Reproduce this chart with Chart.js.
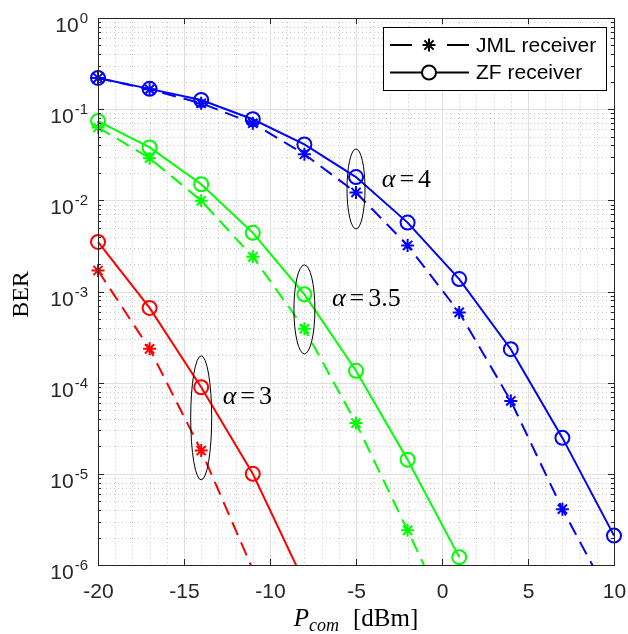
<!DOCTYPE html>
<html><head><meta charset="utf-8">
<style>html,body{margin:0;padding:0;background:#fff;}#wrap{width:628px;height:634px;}</style>
<script src="https://cdn.jsdelivr.net/npm/chart.js@4/dist/chart.umd.min.js"></script>
</head><body><div id="wrap"><canvas id="c" width="628" height="634"></canvas></div>
<script>
// ---- data ----
const xTicks = [-20, -15, -10, -5, 0, 5, 10];
const yTickExponents = [0, -1, -2, -3, -4, -5, -6];
const powerAll = [-20, -17, -14, -11, -8, -5, -2, 1, 4, 7, 10];
const zfAlpha4  = [0.22, 0.167, 0.126, 0.0775, 0.041, 0.018, 0.0057, 0.00137, 2.33e-4, 2.48e-5, 2.1e-6];
const jmlAlpha4 = [0.22, 0.165, 0.116, 0.070, 0.032, 0.0122, 0.0032, 5.9e-4, 6.3e-5, 4.1e-6, 3.6e-7];
const powerAlpha35 = [-20, -17, -14, -11, -8, -5, -2, 1];
const zfAlpha35  = [0.074, 0.038, 0.015, 0.0044, 9.3e-4, 1.35e-4, 1.43e-5, 1.22e-6];
const jmlAlpha35 = [0.063, 0.029, 0.0099, 0.0024, 3.9e-4, 3.6e-5, 2.4e-6, 1.5e-7];
const powerAlpha3Zf = [-20, -17, -14, -11, -8];
const zfAlpha3 = [0.0035, 6.6e-4, 8.9e-5, 1.0e-5, 6.4e-7];
const powerAlpha3Jml = [-20, -17, -14, -11];
const jmlAlpha3 = [0.0017, 2.35e-4, 1.8e-5, 8.9e-7];
const legendLabels = ['JML receiver', 'ZF receiver'];
const alphaValues = ['4', '3.5', '3'];
const ellipseX = [-5, -8, -14];
const ellipseY = [0.01334, 6.37e-4, 4.11e-5];
const alphaTextX = [-3.5, -6.4, -12.75];
const alphaTextY = [0.0167, 8.3e-4, 7.0e-5];
const xTitle = ['P', 'com', '[dBm]'];
const yTitle = 'BER';

const YMIN = 1e-6;
function pts(xs, ys) { return xs.map((x, i) => ({ x: x, y: ys[i] })); }
function ds(xs, ys, color, dashed) {
  return {
    data: pts(xs, ys),
    borderColor: color,
    backgroundColor: 'rgba(0,0,0,0)',
    borderWidth: 2,
    borderDash: dashed ? [14, 8] : [],
    pointStyle: dashed ? 'star' : 'circle',
    pointRadius: (c) => (c.raw && c.raw.y < YMIN) ? 0 : (dashed ? 6.5 : 7),
    pointHoverRadius: 0,
    pointBorderWidth: 2,
    pointBorderColor: color,
    pointBackgroundColor: 'rgba(0,0,0,0)',
    tension: 0,
    clip: { left: 12, right: 12, top: 12, bottom: 0 }
  };
}

const AX = '#262626';
const serif = '"Liberation Serif", "DejaVu Serif", serif';
const sans = '"Liberation Sans", Arial, sans-serif';

const decor = {
  id: 'decor',
  beforeDatasetsDraw(chart) {
    const { ctx, chartArea: { left, right, top, bottom }, scales: { x, y } } = chart;
    ctx.save();
    // minor grid (dotted)
    ctx.lineWidth = 1;
    ctx.strokeStyle = '#c8c8c8';
    ctx.setLineDash([1, 3]);
    for (let v = -20; v <= 10; v++) {
      if (v % 5 === 0) continue;
      const px = Math.round(x.getPixelForValue(v)) + 0.5;
      ctx.beginPath(); ctx.moveTo(px, top); ctx.lineTo(px, bottom); ctx.stroke();
    }
    for (let e = -6; e < 0; e++) {
      for (let m = 2; m <= 9; m++) {
        const py = Math.round(y.getPixelForValue(m * Math.pow(10, e))) + 0.5;
        ctx.beginPath(); ctx.moveTo(left, py); ctx.lineTo(right, py); ctx.stroke();
      }
    }
    // major grid
    ctx.setLineDash([]);
    ctx.strokeStyle = '#e0e0e0';
    xTicks.forEach(v => {
      const px = Math.round(x.getPixelForValue(v)) + 0.5;
      ctx.beginPath(); ctx.moveTo(px, top); ctx.lineTo(px, bottom); ctx.stroke();
    });
    yTickExponents.forEach(e => {
      const py = Math.round(y.getPixelForValue(Math.pow(10, e))) + 0.5;
      ctx.beginPath(); ctx.moveTo(left, py); ctx.lineTo(right, py); ctx.stroke();
    });
    ctx.restore();
  },
  afterDatasetsDraw(chart) {
    const { ctx, chartArea: { left, right, top, bottom }, scales: { x, y } } = chart;
    ctx.save();
    ctx.setLineDash([]);
    // box
    ctx.strokeStyle = AX; ctx.lineWidth = 1;
    ctx.strokeRect(Math.round(left) + 0.5, Math.round(top) + 0.5, Math.round(right - left), Math.round(bottom - top));
    // x ticks + labels
    ctx.fillStyle = AX;
    ctx.font = '21px ' + sans;
    ctx.textAlign = 'center'; ctx.textBaseline = 'alphabetic';
    xTicks.forEach(v => {
      const px = Math.round(x.getPixelForValue(v)) + 0.5;
      ctx.beginPath();
      ctx.moveTo(px, bottom); ctx.lineTo(px, bottom - 6);
      ctx.moveTo(px, top); ctx.lineTo(px, top + 6);
      ctx.stroke();
      ctx.fillText(String(v), px, bottom + 33);
    });
    // y ticks
    for (let e = -6; e <= 0; e++) {
      const py = Math.round(y.getPixelForValue(Math.pow(10, e))) + 0.5;
      ctx.beginPath();
      ctx.moveTo(left, py); ctx.lineTo(left + 6, py);
      ctx.moveTo(right, py); ctx.lineTo(right - 6, py);
      ctx.stroke();
      if (e < 0) {
        for (let m = 2; m <= 9; m++) {
          const pm = Math.round(y.getPixelForValue(m * Math.pow(10, e))) + 0.5;
          ctx.beginPath();
          ctx.moveTo(left, pm); ctx.lineTo(left + 3, pm);
          ctx.moveTo(right, pm); ctx.lineTo(right - 3, pm);
          ctx.stroke();
        }
      }
    }
    // y tick labels with superscript exponent
    yTickExponents.forEach(e => {
      const py = y.getPixelForValue(Math.pow(10, e));
      const expTxt = String(e);
      ctx.font = '15px ' + sans;
      const ew = ctx.measureText(expTxt).width;
      const xr = left - 10;
      ctx.textAlign = 'left';
      ctx.fillText(expTxt, xr - ew, py + 5);
      ctx.font = '21px ' + sans;
      ctx.textAlign = 'right';
      ctx.fillText('10', xr - ew - 1, py + 14);
    });
    // y title
    ctx.save();
    ctx.translate(28, (top + bottom) / 2 + 3);
    ctx.rotate(-Math.PI / 2);
    ctx.font = '24px ' + serif;
    ctx.textAlign = 'center';
    ctx.fillStyle = '#000';
    ctx.fillText(yTitle, 0, 0);
    ctx.restore();
    // x title
    ctx.fillStyle = '#000';
    ctx.textAlign = 'left';
    const f1 = 'italic 25px ' + serif, f2 = 'italic 18px ' + serif, f3 = '25px ' + serif;
    ctx.font = f1; const w1 = ctx.measureText(xTitle[0]).width;
    ctx.font = f2; const w2 = ctx.measureText(xTitle[1]).width;
    ctx.font = f3; const w3 = ctx.measureText(xTitle[2]).width;
    const gap = 14;
    let xs = (left + right) / 2 - (w1 + w2 + gap + w3) / 2;
    const by = 626;
    ctx.font = f1; ctx.fillText(xTitle[0], xs, by); xs += w1;
    ctx.font = f2; ctx.fillText(xTitle[1], xs, by + 5); xs += w2 + gap;
    ctx.font = f3; ctx.fillText(xTitle[2], xs, by);
    // ellipses
    ctx.strokeStyle = '#000'; ctx.lineWidth = 1;
    const rx = [9, 10.5, 10.5], ry = [40, 44.5, 62];
    ellipseX.forEach((ex, i) => {
      const cx = x.getPixelForValue(ex), cy = y.getPixelForValue(ellipseY[i]);
      ctx.beginPath(); ctx.ellipse(cx, cy, rx[i], ry[i], 0, 0, Math.PI * 2); ctx.stroke();
    });
    // alpha labels
    ctx.textBaseline = 'middle';
    alphaValues.forEach((a, i) => {
      let tx = x.getPixelForValue(alphaTextX[i]);
      const ty = y.getPixelForValue(alphaTextY[i]);
      ctx.font = 'italic 26px ' + serif;
      ctx.fillText('α', tx, ty); tx += ctx.measureText('α').width + 4;
      ctx.font = '26px ' + serif;
      ctx.fillText('=', tx, ty); tx += ctx.measureText('=').width + 4;
      ctx.fillText(a, tx, ty);
    });
    // legend
    const lw = 223, lh = 63;
    const lx = right - 8 - lw, ly = top + 9;
    ctx.fillStyle = '#fff';
    ctx.fillRect(lx, ly, lw, lh);
    ctx.strokeStyle = '#000'; ctx.lineWidth = 1;
    ctx.strokeRect(Math.round(lx) + 0.5, Math.round(ly) + 0.5, lw, lh);
    const rowY = [ly + 18, ly + 45.5];
    const x0 = lx + 7, x1 = lx + 86, xm = lx + 46;
    ctx.lineWidth = 2; ctx.strokeStyle = '#000';
    ctx.beginPath();
    ctx.moveTo(x0, rowY[0]); ctx.lineTo(x0 + 22, rowY[0]);
    ctx.moveTo(x1 - 22, rowY[0]); ctx.lineTo(x1, rowY[0]);
    ctx.stroke();
    ctx.fillStyle = 'rgba(0,0,0,0)';
    Chart.helpers.drawPoint(ctx, { pointStyle: 'star', radius: 6.5, borderWidth: 2, rotation: 0 }, xm, rowY[0]);
    ctx.beginPath(); ctx.moveTo(x0, rowY[1]); ctx.lineTo(x1, rowY[1]); ctx.stroke();
    ctx.fillStyle = '#fff'; ctx.lineWidth = 2;
    Chart.helpers.drawPoint(ctx, { pointStyle: 'circle', radius: 7, borderWidth: 2, rotation: 0 }, xm, rowY[1]);
    ctx.fillStyle = '#000';
    ctx.font = '21px ' + sans;
    ctx.textAlign = 'left'; ctx.textBaseline = 'middle';
    ctx.fillText(legendLabels[0], lx + 93, rowY[0] + 1);
    ctx.fillText(legendLabels[1], lx + 93, rowY[1] + 1);
    ctx.restore();
  }
};

new Chart(document.getElementById('c'), {
  type: 'line',
  data: {
    datasets: [
      ds(powerAlpha3Jml, jmlAlpha3, '#ff0000', true),
      ds(powerAlpha3Zf, zfAlpha3, '#ff0000', false),
      ds(powerAlpha35, jmlAlpha35, '#00ff00', true),
      ds(powerAlpha35, zfAlpha35, '#00ff00', false),
      ds(powerAll, jmlAlpha4, '#0000ff', true),
      ds(powerAll, zfAlpha4, '#0000ff', false)
    ]
  },
  options: {
    responsive: false,
    animation: false,
    devicePixelRatio: 1,
    layout: { padding: { top: 18, right: 14, left: 98, bottom: 69 } },
    plugins: { legend: { display: false }, tooltip: { enabled: false } },
    events: [],
    scales: {
      x: {
        type: 'linear', min: -20, max: 10,
        grid: { display: false, drawTicks: false },
        border: { display: false },
        ticks: { display: false },
        afterFit: (s) => { s.height = 0; }
      },
      y: {
        type: 'logarithmic', min: YMIN, max: 1,
        grid: { display: false, drawTicks: false },
        border: { display: false },
        ticks: { display: false },
        afterFit: (s) => { s.width = 0; }
      }
    }
  },
  plugins: [decor]
});
</script>
</body></html>
